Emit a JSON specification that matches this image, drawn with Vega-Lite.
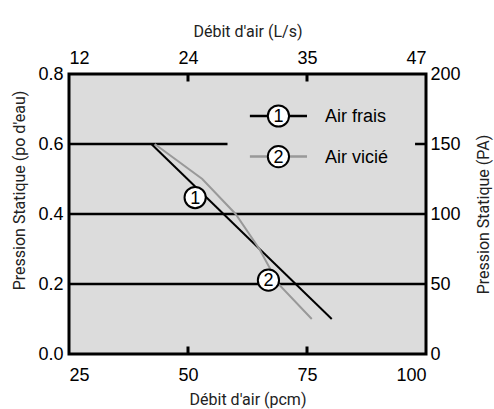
{
  "$schema": "https://vega.github.io/schema/vega-lite/v6.json",
  "width": 357,
  "height": 280,
  "autosize": {"type": "none"},
  "padding": {"left": 69, "top": 74, "right": 68, "bottom": 55},
  "background": "white",
  "config": {
    "view": {"fill": "#dcdcdc", "stroke": "black", "strokeWidth": 3},
    "axis": {
      "domain": false,
      "grid": false,
      "ticks": false,
      "zindex": 1,
      "labelFont": "Liberation Sans",
      "labelFontSize": 18,
      "labelColor": "black",
      "titleFont": "Roboto",
      "titleFontSize": 16,
      "titleFontWeight": "normal",
      "titleColor": "#222"
    }
  },
  "datasets": {
    "curves": [
      {"series": "Air frais", "pcm": 42.3, "p": 0.6},
      {"series": "Air frais", "pcm": 80.2, "p": 0.1},
      {"series": "Air vicié", "pcm": 43, "p": 0.6},
      {"series": "Air vicié", "pcm": 53, "p": 0.5},
      {"series": "Air vicié", "pcm": 60, "p": 0.4},
      {"series": "Air vicié", "pcm": 65, "p": 0.3},
      {"series": "Air vicié", "pcm": 69, "p": 0.2},
      {"series": "Air vicié", "pcm": 76, "p": 0.1}
    ],
    "grid": [
      {"p": 0.2, "x": 25, "x2": 100},
      {"p": 0.4, "x": 25, "x2": 100},
      {"p": 0.6, "x": 25, "x2": 58.3},
      {"p": 0.6, "x": 97.7, "x2": 100}
    ],
    "ticks": [
      {"pcm": 50, "p": 0},
      {"pcm": 75, "p": 0},
      {"pcm": 50, "p": 0.8},
      {"pcm": 75, "p": 0.8}
    ],
    "markers": [
      {"n": "1", "pcm": 51.5, "p": 0.447},
      {"n": "2", "pcm": 66.9, "p": 0.211}
    ],
    "legend": [
      {"series": "Air frais", "n": "1", "x": 63, "x2": 75, "xc": 69, "xt": 78.8, "p": 0.68},
      {"series": "Air vicié", "n": "2", "x": 63, "x2": 75, "xc": 69, "xt": 78.8, "p": 0.564}
    ]
  },
  "layer": [
    {
      "data": {"name": "grid"},
      "mark": {"type": "rule", "color": "black", "strokeWidth": 2.5},
      "encoding": {
        "x": {
          "field": "x", "type": "quantitative",
          "scale": {"domain": [25, 100], "nice": false, "zero": false},
          "axis": {"orient": "bottom", "title": "Débit d'air (pcm)", "values": [25, 50, 75, 100],
                   "labelPadding": 12, "titlePadding": 7}
        },
        "x2": {"field": "x2"},
        "y": {
          "field": "p", "type": "quantitative",
          "scale": {"domain": [0, 0.8], "nice": false},
          "axis": {"orient": "left", "title": "Pression Statique (po d'eau)", "values": [0, 0.2, 0.4, 0.6, 0.8],
                   "format": ".1f", "labelPadding": 6, "titlePadding": 10, "titleY": 116}
        }
      }
    },
    {
      "data": {"name": "curves"},
      "mark": {"type": "line", "strokeWidth": 2},
      "encoding": {
        "x": {
          "field": "pcm", "type": "quantitative",
          "axis": {"orient": "top", "title": "Débit d'air (L/s)", "values": [25, 50, 75, 100],
                   "labelExpr": "format(round(datum.value*0.4719),'d')",
                   "labelPadding": 7, "titlePadding": 10}
        },
        "y": {
          "field": "p", "type": "quantitative",
          "axis": {"orient": "right", "title": "Pression Statique (PA)", "values": [0, 0.2, 0.4, 0.6, 0.8],
                   "labelExpr": "format(datum.value*250,'d')", "labelPadding": 4,
                   "titlePadding": 31, "titleAngle": 270}
        },
        "color": {
          "field": "series", "type": "nominal",
          "scale": {"domain": ["Air frais", "Air vicié"], "range": ["black", "#999999"]},
          "legend": null
        },
        "detail": {"field": "series"}
      }
    },
    {
      "data": {"name": "ticks"},
      "mark": {"type": "tick", "orient": "vertical", "size": 15, "thickness": 3, "color": "black", "opacity": 1, "clip": true},
      "encoding": {
        "x": {"field": "pcm", "type": "quantitative", "axis": null},
        "y": {"field": "p", "type": "quantitative", "axis": null}
      }
    },
    {
      "data": {"name": "legend"},
      "mark": {"type": "rule", "strokeWidth": 2.5},
      "encoding": {
        "x": {"field": "x", "type": "quantitative", "axis": null},
        "x2": {"field": "x2"},
        "y": {"field": "p", "type": "quantitative", "axis": null},
        "color": {"field": "series", "type": "nominal", "legend": null}
      }
    },
    {
      "data": {"name": "legend"},
      "mark": {"type": "point", "shape": "circle", "size": 450, "filled": false, "fill": "white", "fillOpacity": 1, "stroke": "black", "strokeWidth": 2, "opacity": 1},
      "encoding": {
        "x": {"field": "xc", "type": "quantitative", "axis": null},
        "y": {"field": "p", "type": "quantitative", "axis": null}
      }
    },
    {
      "data": {"name": "legend"},
      "mark": {"type": "text", "font": "Liberation Sans", "fontSize": 18, "color": "black", "baseline": "middle", "dy": 1},
      "encoding": {
        "x": {"field": "xc", "type": "quantitative", "axis": null},
        "y": {"field": "p", "type": "quantitative", "axis": null},
        "text": {"field": "n"}
      }
    },
    {
      "data": {"name": "legend"},
      "mark": {"type": "text", "font": "Liberation Sans", "fontSize": 18, "color": "black", "align": "left", "baseline": "middle", "dy": 1},
      "encoding": {
        "x": {"field": "xt", "type": "quantitative", "axis": null},
        "y": {"field": "p", "type": "quantitative", "axis": null},
        "text": {"field": "series"}
      }
    },
    {
      "data": {"name": "markers"},
      "mark": {"type": "point", "shape": "circle", "size": 450, "filled": false, "fill": "white", "fillOpacity": 1, "stroke": "black", "strokeWidth": 2, "opacity": 1},
      "encoding": {
        "x": {"field": "pcm", "type": "quantitative", "axis": null},
        "y": {"field": "p", "type": "quantitative", "axis": null}
      }
    },
    {
      "data": {"name": "markers"},
      "mark": {"type": "text", "font": "Liberation Sans", "fontSize": 18, "color": "black", "baseline": "middle", "dy": 1},
      "encoding": {
        "x": {"field": "pcm", "type": "quantitative", "axis": null},
        "y": {"field": "p", "type": "quantitative", "axis": null},
        "text": {"field": "n"}
      }
    }
  ],
  "resolve": {"axis": {"x": "independent", "y": "independent"}}
}
